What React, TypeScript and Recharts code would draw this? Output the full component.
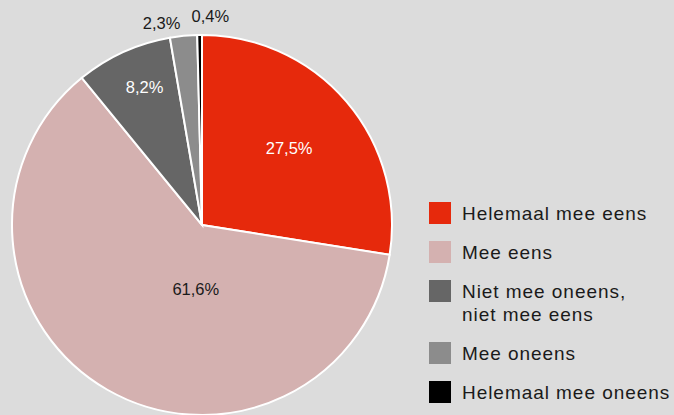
import { Pie, PieChart, Cell, Legend } from "recharts";

const categories = [
    "Helemaal mee eens",
    "Mee eens",
    "Niet mee oneens,\nniet mee eens",
    "Mee oneens",
    "Helemaal mee oneens",
];
const values = [27.5, 61.6, 8.2, 2.3, 0.4];
const labels = ["27,5%", "61,6%", "8,2%", "2,3%", "0,4%"];
const colors = ["#e6290c", "#d4b1b0", "#666666", "#8c8c8c", "#000000"];
const labelColors = ["#ffffff", "#1a1a1a", "#ffffff", "#1a1a1a", "#1a1a1a"];

const data = categories.map((name, i) => ({ name, value: values[i] }));

const RAD = Math.PI / 180;
// radius factor for each label, and small nudges where the text sits off its mid angle
const labelRadius = [0.61, 0.34, 0.78, 1.1, 1.1];
const nudge = [[-1, -2], [26, 8], [4, -3], [-20, 6], [11, 0]];

const renderLabel = (props: any) => {
    const { cx, cy, midAngle, outerRadius, index } = props;
    const r = outerRadius * labelRadius[index];
    const x = cx + r * Math.cos(-midAngle * RAD) + nudge[index][0];
    const y = cy + r * Math.sin(-midAngle * RAD) + nudge[index][1];
    return (
        <text
            x={x}
            y={y}
            fill={labelColors[index]}
            textAnchor="middle"
            dominantBaseline="central"
            fontSize={16.5}
            fontFamily="'Liberation Sans', Arial, sans-serif"
        >
            {labels[index]}
        </text>
    );
};

const renderLegend = () => (
    <div style={{ fontFamily: "'Liberation Sans', Arial, sans-serif", fontSize: 19, color: "#1a1a1a", letterSpacing: 0.95 }}>
        {categories.map((name, i) => (
            <div key={i} style={{ display: "flex", alignItems: "flex-start", marginBottom: 16 }}>
                <div style={{ width: 22, height: 22, background: colors[i], flexShrink: 0 }} />
                <div style={{ marginLeft: 11, lineHeight: "23px", whiteSpace: "pre" }}>{name}</div>
            </div>
        ))}
    </div>
);

export default function App() {
    return (
        <div style={{ position: "absolute", left: 0, top: 0, width: 674, height: 415, background: "#dcdcdc", overflow: "hidden" }}>
            <PieChart width={674} height={415}>
                <Pie
                    data={data}
                    dataKey="value"
                    cx={197}
                    cy={220}
                    outerRadius={190}
                    startAngle={90}
                    endAngle={-270}
                    stroke="#ffffff"
                    strokeWidth={2}
                    label={renderLabel}
                    labelLine={false}
                    isAnimationActive={false}
                >
                    {data.map((entry, index) => (
                        <Cell key={index} fill={colors[index]} />
                    ))}
                </Pie>
                <Legend
                    content={renderLegend}
                    layout="vertical"
                    wrapperStyle={{ left: 429, top: 202, width: 245 }}
                />
            </PieChart>
        </div>
    );
}
